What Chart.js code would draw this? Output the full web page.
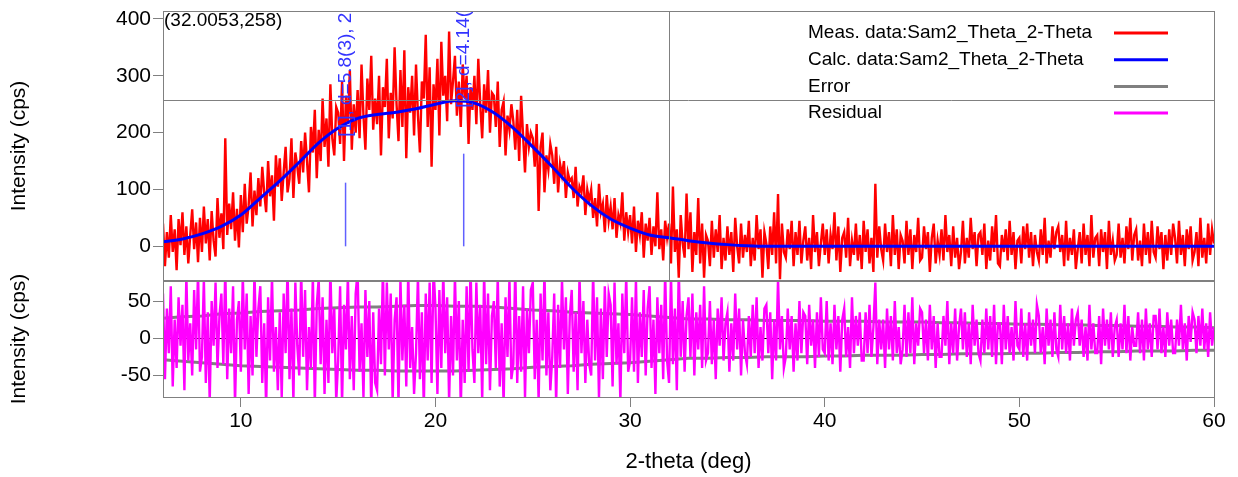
<!DOCTYPE html>
<html>
<head>
<meta charset="utf-8">
<script src="https://cdn.jsdelivr.net/npm/chart.js@4.4.1/dist/chart.umd.min.js"></script>
<style>
  body { margin: 0; background: #fff; }
  #wrap { position: relative; width: 1238px; height: 477px; }
  #topChart { position: absolute; left: 0; top: 0; }
  #bottomChart { position: absolute; left: 0; top: 251px; }
</style>
</head>
<body>
<div id="wrap">
  <canvas id="topChart" width="1238" height="282"></canvas>
  <canvas id="bottomChart" width="1238" height="226"></canvas>
</div>
<script>
// scan: 2-theta from 6 to 60 deg, measured/residual every 0.1 deg
var scanStart = 6;
var scanStep = 0.1;

// Meas. data (cps), one row per degree
var measured = [
  40, -35, 25, -20, 55, -10, 30, -42, 48, 2,        // 6
  60, -15, 35, -30, 20, 65, -5, 42, -28, 50,        // 7
  -10, 70, 5, 48, -25, 62, 10, -18, 85, 15,         // 8
  58, -5, 190, 20, 75, 30, 95, 10, 66, -2,          // 9
  90, 25, 110, 40, 72, 130, 35, 98, 55, 120,        // 10
  70, 140, 95, 60, 150, 88, 125, 45, 160, 105,      // 11
  155, 80, 130, 175, 95, 118, 190, 85, 165, 140,    // 12
  110, 185, 130, 200, 150, 95, 210, 165, 240, 120,  // 13
  205, 150, 260, 175, 225, 140, 285, 190, 160, 245, // 14
  235, 180, 290, 150, 265, 215, 310, 170, 250, 200, // 15
  275, 190, 320, 230, 170, 295, 240, 335, 205, 260, // 16
  215, 300, 160, 280, 245, 330, 190, 270, 225, 350, // 17
  250, 185, 310, 210, 345, 155, 280, 235, 300, 195, // 18
  320, 230, 165, 290, 260, 372, 210, 315, 140, 285, // 19
  240, 330, 195, 360, 265, 300, 220, 378, 250, 290, // 20
  335, 230, 290, 210, 320, 260, 300, 180, 280, 240, // 21
  300, 215, 330, 250, 190, 285, 235, 310, 200, 270, // 22
  265, 210, 290, 175, 240, 255, 160, 230, 205, 250, // 23
  220, 170, 240, 150, 265, 195, 130, 215, 175, 200, // 24
  190, 140, 215, 62, 175, 200, 95, 160, 135, 180,   // 25
  160, 110, 175, 95, 145, 125, 150, 85, 130, 115,   // 26
  120, 85, 140, 70, 105, 95, 125, 55, 100, 80,      // 27
  100, 50, 85, 35, 110, 60, 75, 25, 90, 45,         // 28
  70, 30, 85, 15, 55, 40, 95, 10, 60, 25,           // 29
  55, 5, 70, -10, 45, 20, 60, -20, 40, 10,          // 30
  50, -15, 35, 0, 95, -5, 30, -25, 45, 15,          // 31
  40, -30, 105, -10, 30, -55, 55, 5, -20, 93,       // 32
  -5, 60, -45, 25, -15, 85, -30, 40, -55, 20,       // 33
  10, -35, 45, -20, 30, -10, 55, -40, 15, -25,      // 34
  35, -15, 25, -45, 50, 0, -30, 40, -20, 20,        // 35
  -10, 45, -35, 15, -25, 55, -5, 30, -55, 25,       // 36
  5, -40, 35, -15, 60, -30, 92, -58, 40, -10,       // 37
  -20, 30, -5, 45, -35, 25, -15, 45, -30, 10,       // 38
  35, -25, 15, -40, 55, -10, 25, -35, 5, 40,        // 39
  -15, 30, -30, 20, -5, 60, -25, 35, -45, 15,       // 40
  25, -20, 50, -35, 10, -15, 40, -25, 20, -40,      // 41
  45, -10, 30, -30, 15, -45, 110, -20, 35, -5,      // 42
  -25, 40, -10, 25, -35, 55, -15, 30, -40, 20,      // 43
  10, -30, 45, -15, 30, -40, 20, -10, 50, -25,      // 44
  -20, 35, -5, 25, -45, 15, 40, -30, 10, -15,       // 45
  30, -25, 55, -10, 20, -35, 35, -20, 15, -40,      // 46
  -10, 45, -30, 15, -20, 50, -5, 25, -35, 20,       // 47
  25, -15, 40, -40, 10, -25, 35, -10, 55, -30,      // 48
  -35, 20, -10, 30, -25, 45, -15, 25, -40, 10,      // 49
  15, -30, 35, -5, 40, -20, 25, -35, 20, -10,       // 50
  -25, 30, -15, 50, -30, 10, -20, 35, -5, 25,       // 51
  35, -10, 20, -35, 45, -25, 15, -15, 30, -40,      // 52
  -5, 25, -30, 40, -15, 20, -35, 55, -20, 15,       // 53
  20, -35, 30, -10, 25, -40, 45, -15, 10, -25,      // 54
  -15, 40, -20, 15, -30, 35, -5, 50, -25, 20,       // 55
  30, -25, 10, -35, 40, -15, 25, -30, 45, -10,      // 56
  -20, 35, -5, 25, -40, 20, -25, 30, -15, 40,       // 57
  15, -30, 45, -15, 20, -35, 30, -5, 35, -25,       // 58
  -10, 25, -35, 50, -20, 15, -30, 40, -15, 30,      // 59
  5                                                 // 60
];

// Residual (cps), one row per degree
var residual = [
  60, -55, 40, -20, 70, -65, 25, -40, 55, -10,      // 6
  45, -70, 85, -30, 20, -50, 65, -15, 90, -45,      // 7
  -25, 80, -60, 35, -85, 50, -10, 75, -40, 30,      // 8
  60, -35, 95, -55, 40, -20, 70, -90, 25, 50,       // 9
  -45, 85, -15, 60, -75, 30, -50, 90, -25, 40,      // 10
  70, -60, 20, -95, 55, -30, 85, -45, 15, -70,      // 11
  35, -80, 60, -20, 95, -55, 40, -85, 75, -10,      // 12
  -50, 90, -25, 65, -70, 15, -40, 85, -90, 45,      // 13
  80, -35, 55, -75, 25, -60, 95, -20, 40, -85,      // 14
  -30, 70, -90, 45, -15, 85, -55, 30, -70, 60,      // 15
  90, -45, 20, -80, 65, -25, 50, -95, 35, -60,      // 16
  -70, 40, -35, 95, -50, 75, -15, 60, -85, 25,      // 17
  55, -90, 80, -30, 45, -65, 90, -40, 15, -75,      // 18
  -20, 85, -55, 35, -95, 60, -30, 75, -60, 95,      // 19
  40, -75, 65, -40, 90, -20, 55, -85, 30, -50,      // 20
  85, -30, 50, -95, 25, -60, 70, -45, 95, -15,      // 21
  -60, 75, -20, 45, -85, 90, -35, 60, -70, 30,      // 22
  50, -40, 85, -65, 20, -90, 55, -25, 80, -55,      // 23
  -35, 95, -60, 30, -45, 70, -80, 40, -20, 65,      // 24
  75, -55, 25, -85, 60, -30, 90, -50, 35, -70,      // 25
  -25, 60, -90, 45, -40, 80, -15, 55, -75, 30,      // 26
  65, -45, 35, -70, 85, -20, 50, -60, 25, -35,      // 27
  -50, 90, -30, 55, -80, 40, -55, 70, -25, 60,      // 28
  45, -65, 75, -35, 20, -85, 60, -20, 85, -45,      // 29
  -30, 55, -45, 80, -60, 35, -25, 65, -50, 40,      // 30
  70, -40, 25, -75, 55, -20, 45, -55, 90, -30,      // 31
  -60, 85, -35, 40, -70, 95, -25, 50, -45, 30,      // 32
  55, -25, 60, -50, 35, -15, 45, -40, 70, -30,      // 33
  -20, 50, -35, 25, -55, 40, -10, 55, -30, 20,      // 34
  35, -45, 20, -30, 60, -15, 40, -50, 25, -20,      // 35
  -35, 30, -25, 45, -20, 55, -40, 15, -30, 40,      // 36
  45, -20, 35, -55, 25, -30, 80, -15, 30, -40,      // 37
  -25, 40, -15, 30, -45, 20, -30, 50, -20, 35,      // 38
  30, -35, 45, -10, 25, -40, 35, -25, 55, -15,      // 39
  -20, 50, -30, 20, -35, 45, -15, 30, -45, 25,      // 40
  40, -25, 15, -40, 55, -20, 30, -10, 35, -30,      // 41
  -30, 35, -20, 45, -25, 15, 75, -35, 25, -15,      // 42
  25, -40, 40, -15, 30, -30, 50, -20, 15, -35,      // 43
  -15, 45, -25, 35, -20, 55, -35, 20, -10, 40,      // 44
  35, -20, 25, -30, 45, -15, 30, -40, 20, -25,      // 45
  -25, 30, -10, 50, -35, 20, -20, 40, -30, 15,      // 46
  40, -15, 35, -25, 20, -35, 45, -10, 25, -20,      // 47
  -30, 25, -20, 40, -15, 30, -25, 45, -35, 20,      // 48
  20, -35, 45, -15, 30, -20, 15, -30, 50, -10,      // 49
  -15, 40, -25, 20, -30, 35, -10, 25, -20, 45,      // 50
  30, -20, 15, -35, 40, -10, 25, -25, 35, -15,      // 51
  -25, 45, -15, 30, -20, 20, -30, 40, -10, 25,      // 52
  35, -10, 25, -25, 15, -30, 45, -15, 20, -20,      // 53
  -20, 30, -35, 40, -10, 25, -15, 35, -25, 15,      // 54
  25, -25, 20, -15, 45, -20, 30, -30, 15, -10,      // 55
  -10, 35, -20, 25, -30, 40, -15, 20, -25, 30,      // 56
  30, -15, 40, -20, 15, -25, 35, -10, 25, -20,      // 57
  -20, 25, -10, 45, -15, 20, -30, 30, -5, 35,       // 58
  25, -20, 30, -10, 40, -15, 20, -25, 35, -10,      // 59
  15                                                // 60
];

// Calc. data and error band, one value per degree (6..60)
var calcStep = 1;
var calculated = [8, 13, 22, 35, 55, 85, 115, 148, 182, 208,
  225, 232, 236, 242, 250, 256, 252, 235, 208, 175,
  140, 103, 72, 48, 32, 20, 15, 10, 6, 3,
  1, 0, 0, 0, 0, 0, 0, 0, 0, 0,
  0, 0, 0, 0, 0, 0, 0, 0, 0, 0,
  0, 0, 0, 0, 0];
var errorUpper = [27, 29, 30, 33, 34, 36, 37, 38, 40, 41,
  42, 42, 43, 44, 44, 43, 43, 42, 40, 38,
  37, 35, 34, 33, 32, 30, 28, 26, 26, 25,
  25, 24, 24, 24, 23, 23, 23, 22, 22, 22,
  21, 21, 20, 20, 19, 19, 18, 18, 17, 17,
  16, 16, 15, 15, 14];
var errorLower = [-29, -31, -33, -35, -37, -38, -39, -40, -41, -42,
  -43, -43, -44, -44, -44, -44, -43, -42, -41, -39,
  -38, -37, -35, -34, -33, -31, -29, -27, -27, -26,
  -26, -25, -25, -25, -24, -24, -23, -23, -23, -22,
  -22, -21, -21, -21, -20, -20, -19, -19, -18, -18,
  -17, -17, -17, -16, -16];

// peak markers
var peakPos = [15.38, 21.45];
var peakHeight = [112, 163];
var peakLabels = ['[1], d=5.8(3), 2', '[2], d=4.14('];

// cursor
var cursorX = 32.0053;
var cursorY = 258;

var topTicks = [0, 100, 200, 300, 400];
var bottomTicks = [-50, 0, 50];
var xTicks = [10, 20, 30, 40, 50, 60];

var legendNames = ['Meas. data:Sam2_Theta_2-Theta', 'Calc. data:Sam2_Theta_2-Theta', 'Error', 'Residual'];
var legendColors = ['#ff0000', '#0000ff', '#808080', '#ff00ff'];

var FONT = "'Liberation Sans', Arial, sans-serif";
Chart.defaults.font.family = FONT;
Chart.defaults.color = '#000';

function scanPoints(arr) {
  return arr.map(function (v, i) { return { x: +(scanStart + i * scanStep).toFixed(2), y: v }; });
}
function calcPoints(arr) {
  return arr.map(function (v, i) { return { x: scanStart + i * calcStep, y: v }; });
}
function fixedTicks(list) {
  return function (scale) { scale.ticks = list.map(function (v) { return { value: v }; }); };
}
// keep the plot box where it is, no room made for end labels
function fixWidth(w) {
  return function (s) { s.width = w; s.paddingTop = 0; s.paddingBottom = 0; };
}
function fixHeight(h) {
  return function (s) { s.height = h; s.paddingLeft = 0; s.paddingRight = 0; };
}

var peakSets = peakPos.map(function (p, i) {
  return {
    data: [{ x: p, y: 0 }, { x: p, y: peakHeight[i] }],
    borderColor: '#6060ff', borderWidth: 1.5, pointRadius: 0, order: 0, clip: 0
  };
});

var topPlugin = {
  id: 'topExtras',
  afterDatasetsDraw: function (chart) {
    var ctx = chart.ctx, a = chart.chartArea;
    var xs = chart.scales.x, ys = chart.scales.y;
    ctx.save();
    ctx.beginPath();
    ctx.rect(a.left, a.top, a.right - a.left, a.bottom - a.top);
    ctx.clip();
    // cursor cross
    ctx.strokeStyle = '#808080';
    ctx.lineWidth = 1;
    var cx = Math.round(xs.getPixelForValue(cursorX)) + 0.5;
    var cy = Math.round(ys.getPixelForValue(cursorY)) + 0.5;
    ctx.beginPath();
    ctx.moveTo(cx, a.top); ctx.lineTo(cx, a.bottom);
    ctx.moveTo(a.left, cy); ctx.lineTo(a.right, cy);
    ctx.stroke();
    // peak labels
    ctx.fillStyle = '#3333ff';
    ctx.font = '19px ' + FONT;
    ctx.textAlign = 'left';
    ctx.textBaseline = 'middle';
    peakPos.forEach(function (p, i) {
      ctx.save();
      ctx.translate(xs.getPixelForValue(p), ys.getPixelForValue(peakHeight[i]) - 46);
      ctx.rotate(-Math.PI / 2);
      ctx.fillText(peakLabels[i], 0, 0);
      ctx.restore();
    });
    ctx.restore();

    ctx.save();
    ctx.fillStyle = '#000';
    ctx.font = '19px ' + FONT;
    ctx.textBaseline = 'middle';
    ctx.fillText('(' + cursorX + ',' + cursorY + ')', a.left + 1, a.top + 10);
    // legend
    legendNames.forEach(function (name, i) {
      var y = 33 + i * 26.7;
      ctx.fillStyle = '#000';
      ctx.fillText(name, 808, y);
      ctx.strokeStyle = legendColors[i];
      ctx.lineWidth = 3;
      ctx.beginPath();
      ctx.moveTo(1114, y); ctx.lineTo(1168, y);
      ctx.stroke();
    });
    ctx.strokeStyle = '#808080';
    ctx.lineWidth = 1;
    ctx.strokeRect(a.left + 0.5, a.top + 0.5, a.right - a.left, a.bottom - a.top - 1);
    ctx.restore();
  }
};

var bottomPlugin = {
  id: 'bottomExtras',
  beforeDatasetsDraw: function (chart) {
    var ctx = chart.ctx, a = chart.chartArea;
    var y0 = Math.round(chart.scales.y.getPixelForValue(0)) + 0.5;
    ctx.save();
    ctx.strokeStyle = '#000';
    ctx.lineWidth = 1;
    ctx.beginPath();
    ctx.moveTo(a.left, y0); ctx.lineTo(a.right, y0);
    ctx.stroke();
    ctx.restore();
  },
  afterDatasetsDraw: function (chart) {
    var ctx = chart.ctx, a = chart.chartArea;
    ctx.save();
    ctx.strokeStyle = '#808080';
    ctx.lineWidth = 1;
    ctx.strokeRect(a.left + 0.5, a.top + 0.5, a.right - a.left, a.bottom - a.top);
    ctx.restore();
  }
};

var yTickStyle = { font: { size: 21 }, color: '#000', padding: 2 };
var gridStyle = { drawOnChartArea: false, tickLength: 10, color: '#808080' };

var topChart = new Chart(document.getElementById('topChart').getContext('2d'), {
  type: 'line',
  data: {
    datasets: [{
      label: legendNames[0], data: scanPoints(measured),
      borderColor: '#ff0000', borderWidth: 2.4, pointRadius: 0, order: 3, clip: 0
    }, {
      label: legendNames[1], data: calcPoints(calculated),
      borderColor: '#0000ff', borderWidth: 3, pointRadius: 0, order: 1, clip: 0,
      cubicInterpolationMode: 'monotone'
    }].concat(peakSets)
  },
  options: {
    responsive: false,
    animation: false,
    layout: { padding: { left: 0, right: 24, top: 11, bottom: 1 } },
    plugins: { legend: { display: false }, tooltip: { enabled: false } },
    scales: {
      x: { type: 'linear', min: 6, max: 60, display: false },
      y: {
        min: -61, max: 414,
        afterFit: fixWidth(163),
        afterBuildTicks: fixedTicks(topTicks),
        ticks: yTickStyle,
        grid: gridStyle,
        border: { color: '#808080' },
        title: { display: true, text: 'Intensity (cps)', font: { size: 21 }, color: '#000', padding: { top: 7, bottom: 0 } }
      }
    }
  },
  plugins: [topPlugin]
});

// bottom canvas starts 30px above the shared border so its axis title has room
var bottomChart = new Chart(document.getElementById('bottomChart').getContext('2d'), {
  type: 'line',
  data: {
    datasets: [{
      label: legendNames[3], data: scanPoints(residual),
      borderColor: '#ff00ff', borderWidth: 2.4, pointRadius: 0, order: 0, clip: 0
    }, {
      label: legendNames[2], data: calcPoints(errorUpper),
      borderColor: '#808080', borderWidth: 3, pointRadius: 0, order: 1, clip: 0
    }, {
      label: legendNames[2], data: calcPoints(errorLower),
      borderColor: '#808080', borderWidth: 3, pointRadius: 0, order: 2, clip: 0
    }]
  },
  options: {
    responsive: false,
    animation: false,
    layout: { padding: { left: 0, right: 24, top: 30, bottom: 0 } },
    plugins: { legend: { display: false }, tooltip: { enabled: false } },
    scales: {
      x: {
        type: 'linear', min: 6, max: 60,
        afterFit: fixHeight(80),
        afterBuildTicks: fixedTicks(xTicks),
        ticks: { font: { size: 21 }, color: '#000', padding: 2, maxRotation: 0 },
        grid: gridStyle,
        border: { color: '#808080' },
        title: { display: true, text: '2-theta (deg)', font: { size: 22 }, color: '#000', padding: { top: 0, bottom: 2 } }
      },
      y: {
        min: -79, max: 77,
        afterFit: fixWidth(163),
        afterBuildTicks: fixedTicks(bottomTicks),
        ticks: yTickStyle,
        grid: gridStyle,
        border: { color: '#808080' },
        title: { display: true, text: 'Intensity (cps)', font: { size: 21 }, color: '#000', padding: { top: 7, bottom: 0 } }
      }
    }
  },
  plugins: [bottomPlugin]
});
</script>
</body>
</html>
